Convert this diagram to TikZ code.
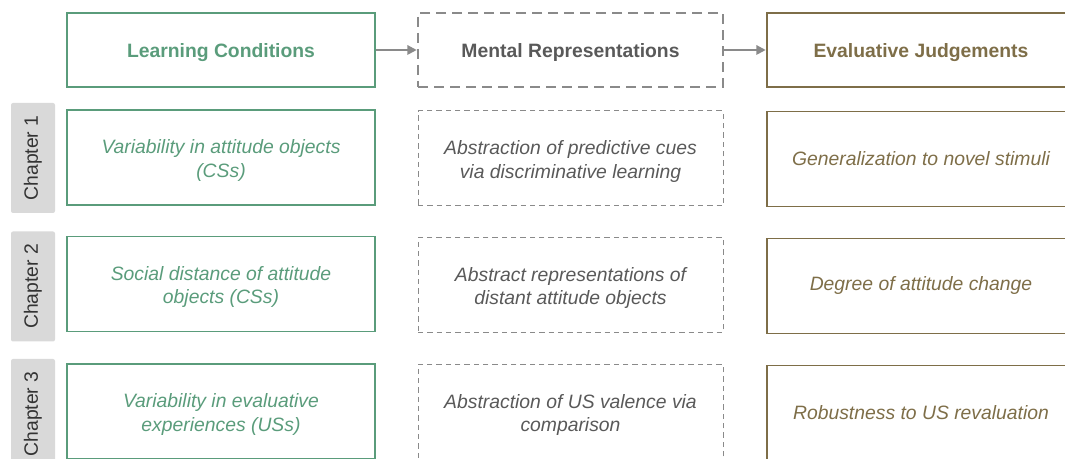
\documentclass[tikz,border=0pt]{standalone}
\usepackage{fontspec}
\setmainfont{Liberation Sans}
\usetikzlibrary{arrows.meta}
\definecolor{lcgreen}{HTML}{5A9C7B}
\definecolor{ejbrown}{HTML}{7E6E48}
\definecolor{mrgray}{HTML}{595959}
\definecolor{dashgray}{HTML}{8A8A8A}
\definecolor{tabgray}{HTML}{D9D9D9}
\newcommand{\lift}{\rule{0pt}{15pt}}
\begin{document}
\begin{tikzpicture}[x=0.75pt, y=0.75pt,
    every node/.style={font=\fontsize{14.5}{17.5}\selectfont, align=center, inner sep=0pt},
    head/.style={minimum height=55.5pt, line width=1.9pt, font=\fontsize{14.5}{17.5}\selectfont\bfseries, execute at begin node={\rule{0pt}{15pt}}},
    cell/.style={minimum height=71.25pt, line width=0.9pt, font=\fontsize{14.5}{17.5}\selectfont\itshape},
    lcbox/.style={draw=lcgreen, text=lcgreen, minimum width=231pt},
    mrbox/.style={draw=dashgray, text=mrgray, minimum width=228.75pt},
    ejbox/.style={draw=ejbrown, text=ejbrown, minimum width=231pt},
    tab/.style={fill=tabgray, rounded corners=1.5pt, minimum width=82.5pt, minimum height=33pt, rotate=90, text=black!80}]
    \useasboundingbox (0,0) rectangle (1065,459);
    \clip (0,0) rectangle (1065,459);
    %Nodes
    \node[head, lcbox] at (221, 409) (lc) {Learning Conditions};
    \node[head, mrbox, dash pattern=on 7.5pt off 4.5pt] at (570.5, 409) (mr) {Mental Representations};
    \node[head, ejbox] at (921, 409) (ej) {Evaluative Judgements};

    \node[tab] at (33, 301) (ch1) {Chapter 1};
    \node[tab] at (33, 172.5) (ch2) {Chapter 2};
    \node[tab] at (33, 45) (ch3) {Chapter 3};

    \node[cell, lcbox] at (221, 301.5) (lc1) {\lift Variability in attitude objects\\(CSs)};
    \node[cell, lcbox] at (221, 175) (lc2) {\lift Social distance of attitude\\objects (CSs)};
    \node[cell, lcbox] at (221, 47.5) (lc3) {\lift Variability in evaluative\\experiences (USs)};

    \node[cell, mrbox, line width=0.75pt, dash pattern=on 4pt off 3pt] at (570.5, 300.5) (mr1) {\lift Abstraction of predictive cues\\via discriminative learning};
    \node[cell, mrbox, line width=0.75pt, dash pattern=on 4pt off 3pt] at (570.5, 174) (mr2) {\lift Abstract representations of\\distant attitude objects};
    \node[cell, mrbox, line width=0.75pt, dash pattern=on 4pt off 3pt] at (570.5, 47) (mr3) {\lift Abstraction of US valence via\\comparison};

    \node[cell, ejbox] at (921, 300) (ej1) {Generalization to novel stimuli};
    \node[cell, ejbox] at (921, 173) (ej2) {Degree of attitude change};
    \node[cell, ejbox] at (921, 46) (ej3) {Robustness to US revaluation};

    %Lines
    \draw[-{Triangle[length=7pt, width=7pt]}, line width=1.5pt, dashgray] (lc.east) -- (mr.west);
    \draw[-{Triangle[length=7pt, width=7pt]}, line width=1.5pt, dashgray] (mr.east) -- (ej.west);
\end{tikzpicture}
\end{document}
